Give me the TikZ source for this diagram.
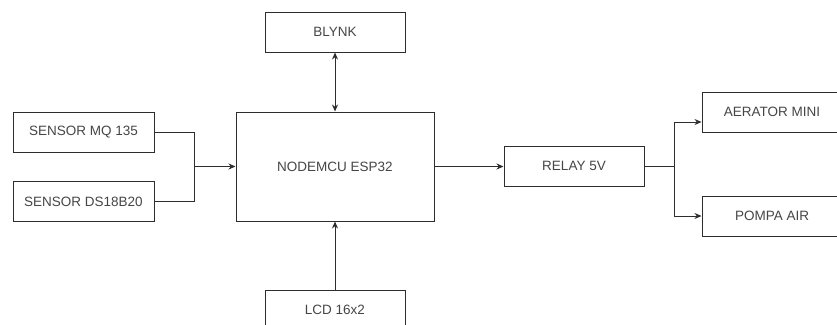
\documentclass[tikz,border=0pt]{standalone}
\usepackage{fontspec}
\setmainfont{Liberation Sans}
\usepackage{tikz}
\usetikzlibrary{arrows.meta, positioning, calc}
\definecolor{lineclr}{RGB}{45,45,45}
\definecolor{textclr}{RGB}{70,70,70}

\begin{document}
\begin{tikzpicture}[
    x=1pt, y=-1pt,
    block/.style={rectangle, draw=lineclr, line width=1pt, minimum width=140pt, minimum height=40pt, inner sep=0pt, align=center, font=\fontsize{13.5}{16}\selectfont, text=textclr},
    mcu/.style={block, minimum width=198pt, minimum height=109pt},
    arrow/.style={-{Stealth[length=7pt,width=6pt]}, draw=lineclr, line width=1pt},
    biarrow/.style={{Stealth[length=7pt,width=6pt]}-{Stealth[length=7pt,width=6pt]}, draw=lineclr, line width=1pt},
    wire/.style={draw=lineclr, line width=1pt},
]
\clip (0,0) rectangle (837,324);
\fill[white] (0,0) rectangle (837,324);

% Controller
\node[mcu] (nodemcu) at (335,166.5) {NODEMCU ESP32};

% Cloud and display
\node[block] (blynk) at (335,32) {BLYNK};
\node[block] (lcd) at (335,310) {LCD 16x2};

% Sensors
\node[block, minimum width=141pt] (mq) at (83.5,132) {SENSOR MQ 135};
\node[block, minimum width=141pt] (ds) at (83.5,201.5) {SENSOR DS18B20};

% Outputs
\node[block] (relay) at (574,166) {RELAY 5V};
\node[block] (aerator) at (772,112) {AERATOR MINI};
\node[block] (pompa) at (772,216) {POMPA AIR};

\coordinate (join) at (194,166.5);
\coordinate (split) at (674,166);

\draw[wire] (mq.east) -| (join);
\draw[wire] (ds.east) -| (join);
\draw[arrow] (join) -- (nodemcu.west);

\draw[biarrow] (blynk.south) -- (nodemcu.north);
\draw[arrow] (lcd.north) -- (nodemcu.south);

\draw[arrow] (nodemcu.east) -- (nodemcu.east -| relay.west);
\draw[wire] (relay.east) -- (split);
\draw[arrow] (split) |- ([yshift=-10pt]aerator.west);
\draw[arrow] (split) |- (pompa.west);

\end{tikzpicture}
\end{document}
